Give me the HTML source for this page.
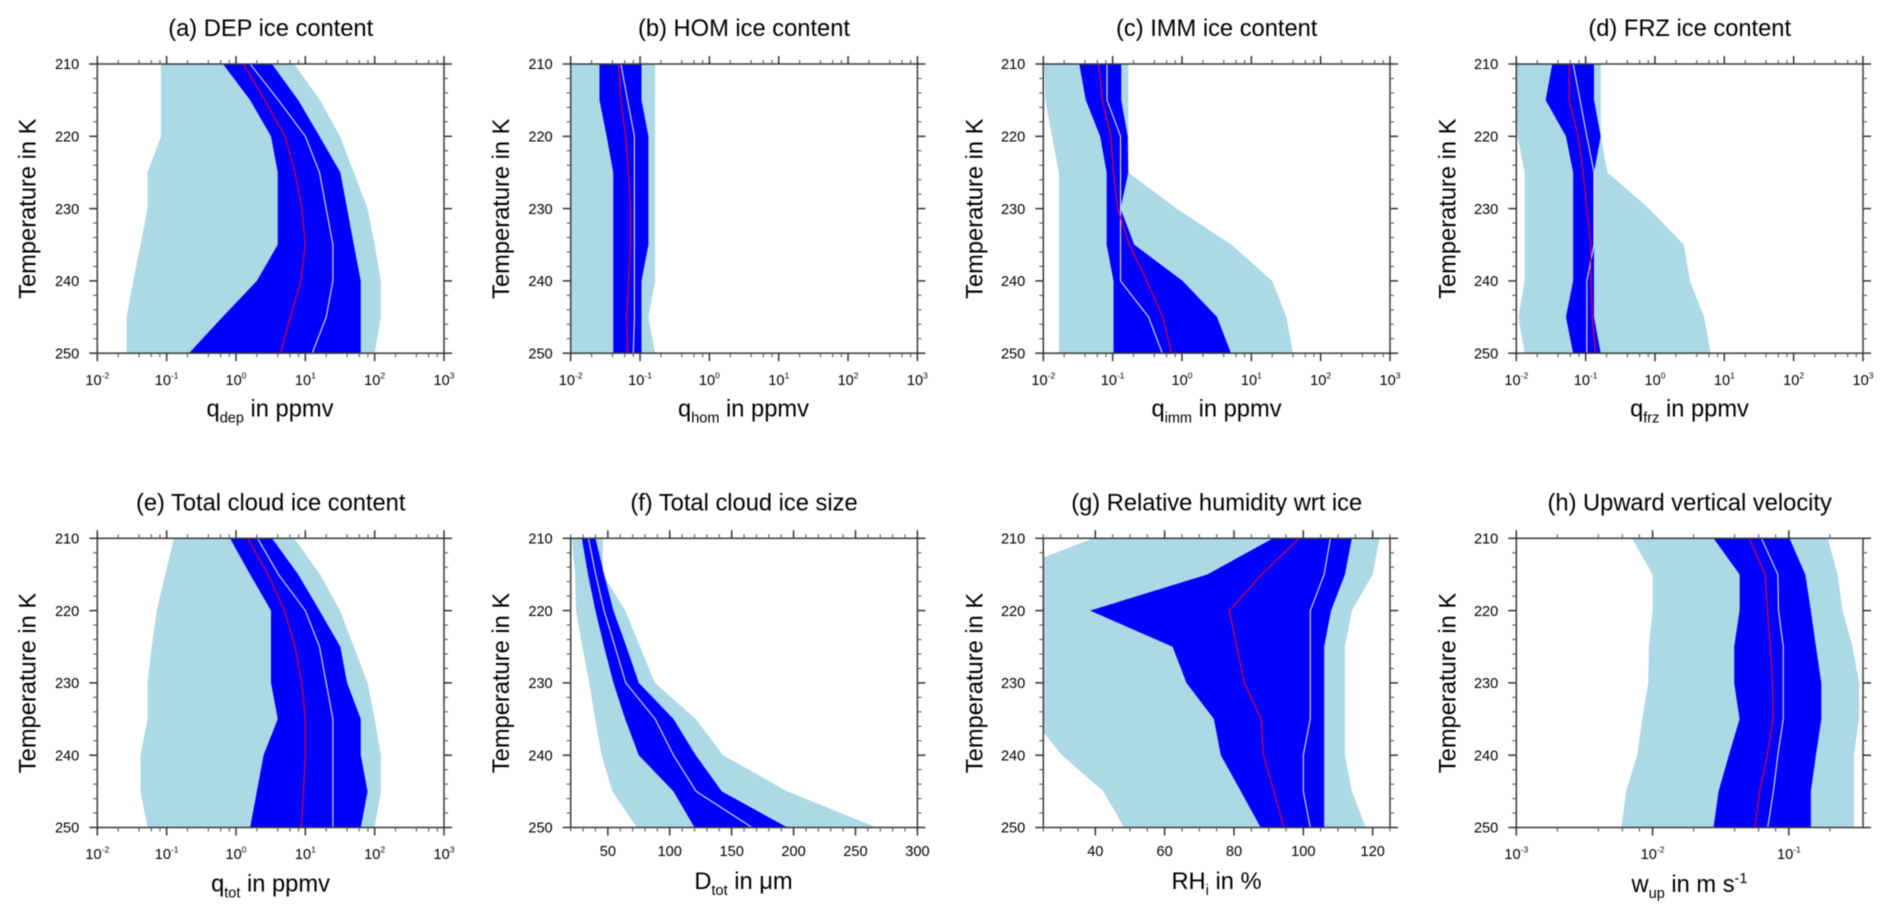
<!DOCTYPE html>
<html lang="en">
<head>
<meta charset="utf-8">
<title>Cloud ice profiles</title>
<style>
html,body{margin:0;padding:0;background:#fff;}
svg{display:block;filter:blur(0.4px);}
text{font-family:"Liberation Sans",Arial,sans-serif;fill:#000;white-space:pre;}
.title,.axt{font-size:23.7px;text-anchor:middle;}
.sub{font-size:14.5px;}
</style>
</head>
<body>
<svg id="chart" xmlns="http://www.w3.org/2000/svg" width="1892" height="920" viewBox="0 0 1892 920">
  <rect x="0" y="0" width="1892" height="920" fill="#ffffff"/>
  <g id="plots"></g>

  <text class="title" x="270.7" y="36">(a) DEP ice content</text>
  <text class="title" x="744" y="36">(b) HOM ice content</text>
  <text class="title" x="1216.7" y="36">(c) IMM ice content</text>
  <text class="title" x="1689.7" y="36">(d) FRZ ice content</text>
  <text class="title" x="270.7" y="510.5">(e) Total cloud ice content</text>
  <text class="title" x="744" y="510.5">(f) Total cloud ice size</text>
  <text class="title" x="1216.7" y="510.5">(g) Relative humidity wrt ice</text>
  <text class="title" x="1689.7" y="510.5">(h) Upward vertical velocity</text>

  <text class="axt" transform="translate(35.7 208.7) rotate(-90)">Temperature in K</text>
  <text class="axt" transform="translate(509 208.7) rotate(-90)">Temperature in K</text>
  <text class="axt" transform="translate(982.3 208.7) rotate(-90)">Temperature in K</text>
  <text class="axt" transform="translate(1455.3 208.7) rotate(-90)">Temperature in K</text>
  <text class="axt" transform="translate(35.7 683) rotate(-90)">Temperature in K</text>
  <text class="axt" transform="translate(509 683) rotate(-90)">Temperature in K</text>
  <text class="axt" transform="translate(982.3 683) rotate(-90)">Temperature in K</text>
  <text class="axt" transform="translate(1455.3 683) rotate(-90)">Temperature in K</text>

  <text class="axt" x="270" y="416.7">q<tspan class="sub" dy="6">dep</tspan><tspan dy="-6"> in ppmv</tspan></text>
  <text class="axt" x="743.5" y="416.7">q<tspan class="sub" dy="6">hom</tspan><tspan dy="-6"> in ppmv</tspan></text>
  <text class="axt" x="1216.5" y="416.7">q<tspan class="sub" dy="6">imm</tspan><tspan dy="-6"> in ppmv</tspan></text>
  <text class="axt" x="1689.5" y="416.7">q<tspan class="sub" dy="6">frz</tspan><tspan dy="-6"> in ppmv</tspan></text>
  <text class="axt" x="270.5" y="891.7">q<tspan class="sub" dy="6">tot</tspan><tspan dy="-6"> in ppmv</tspan></text>
  <text class="axt" x="743.5" y="889">D<tspan class="sub" dy="6">tot</tspan><tspan dy="-6"> in μm</tspan></text>
  <text class="axt" x="1216.5" y="889">RH<tspan class="sub" dy="6">i</tspan><tspan dy="-6"> in %</tspan></text>
  <text class="axt" x="1689.5" y="892">w<tspan class="sub" dy="6">up</tspan><tspan dy="-6"> in m s</tspan><tspan class="sub" dy="-9">-1</tspan></text>
</svg>
<script>
const temperatures = [210, 215, 220, 225, 230, 235, 240, 245, 250];
const yTickLabels = [210, 220, 230, 240, 250];
const yMinorTicks = [212, 214, 216, 218, 222, 224, 226, 228, 232, 234, 236, 238, 242, 244, 246, 248];

const aLightLow = [0.083, 0.083, 0.083, 0.053, 0.053, 0.042, 0.033, 0.0265, 0.0265];
const aLightHigh = [6.9, 16.3, 31.6, 50, 79, 100, 123, 123, 100];
const aBlueLow = [0.65, 1.6, 3.2, 4, 4, 4, 2, 0.64, 0.21];
const aBlueHigh = [3.3, 7.9, 16, 32, 40, 50, 63, 63, 63];
const aRed = [1.28, 2.6, 5.1, 7.1, 8.9, 10, 8.6, 6.1, 4.4];
const aWhite = [1.6, 4.1, 10, 16, 20, 25, 25, 20, 12.6];

const bLightLow = [0.01, 0.01, 0.01, 0.01, 0.01, 0.01, 0.01, 0.01, 0.01];
const bLightHigh = [0.165, 0.165, 0.165, 0.165, 0.165, 0.165, 0.165, 0.132, 0.165];
const bBlueLow = [0.026, 0.026, 0.033, 0.041, 0.041, 0.041, 0.041, 0.041, 0.041];
const bBlueHigh = [0.105, 0.105, 0.132, 0.132, 0.132, 0.132, 0.105, 0.105, 0.105];
const bRed = [0.049, 0.053, 0.062, 0.068, 0.073, 0.073, 0.068, 0.064, 0.066];
const bWhite = [0.053, 0.066, 0.083, 0.083, 0.083, 0.083, 0.083, 0.083, 0.08];

const cLightLow = [0.0104, 0.0107, 0.0133, 0.0168, 0.0168, 0.0168, 0.0168, 0.0168, 0.0168];
const cLightHigh = [0.168, 0.168, 0.168, 0.168, 0.84, 5.2, 20, 32, 40];
const cBlueLow = [0.033, 0.041, 0.066, 0.082, 0.082, 0.082, 0.103, 0.103, 0.103];
const cBlueHigh = [0.133, 0.133, 0.165, 0.168, 0.13, 0.205, 1.02, 3.2, 5.1];
const cRed = [0.063, 0.071, 0.094, 0.103, 0.118, 0.174, 0.31, 0.53, 0.71];
const cWhite = [0.083, 0.083, 0.13, 0.13, 0.13, 0.13, 0.13, 0.33, 0.52];

const dLightLow = [0.01, 0.01, 0.0104, 0.0132, 0.0132, 0.0132, 0.0132, 0.0107, 0.0132];
const dLightHigh = [0.165, 0.165, 0.165, 0.207, 0.82, 2.6, 3.2, 5.1, 6.4];
const dBlueLow = [0.033, 0.0265, 0.052, 0.066, 0.066, 0.066, 0.066, 0.052, 0.066];
const dBlueHigh = [0.132, 0.132, 0.165, 0.132, 0.132, 0.132, 0.132, 0.132, 0.165];
const dRed = [0.058, 0.058, 0.078, 0.092, 0.104, 0.119, 0.119, 0.125, 0.138];
const dWhite = [0.066, 0.083, 0.104, 0.132, 0.132, 0.132, 0.104, 0.104, 0.104];

const eLightLow = [0.128, 0.095, 0.072, 0.061, 0.053, 0.053, 0.042, 0.042, 0.053];
const eLightHigh = [6.9, 16.3, 31.6, 50, 79, 100, 123, 123, 100];
const eBlueLow = [0.82, 1.6, 3.2, 3.2, 3.2, 4, 2.5, 2, 1.6];
const eBlueHigh = [3.3, 7.9, 16, 32, 40, 63, 63, 79, 63];
const eRed = [1.47, 2.9, 5, 7.1, 8.9, 10, 10, 9.4, 8.75];
const eWhite = [2.05, 4.1, 10, 16, 20, 25, 25, 25, 25];

const fLightLow = [21, 23.5, 24.3, 29.4, 35, 39.7, 45, 53.7, 73.4];
const fLightHigh = [46, 46, 64, 76, 88, 121, 143, 195, 267];
const fBlueLow = [29, 34, 40, 47, 54.5, 64, 75, 103, 120];
const fBlueHigh = [40, 47, 54.5, 65, 75, 103, 121, 142, 195];
const fWhite = [34.3, 40.2, 47, 55.8, 64.5, 88.2, 103, 121.3, 166.4];

const gLightLow = [39.4, 12.5, 12, 12, 15, 22, 30.4, 42.3, 48.3];
const gLightHigh = [122, 120, 114, 112, 112, 112, 112, 114, 118];
const gBlueLow = [91.3, 72.3, 38.5, 62.3, 66.3, 74.2, 76.2, 82, 87.7];
const gBlueHigh = [114, 112, 108, 106, 106, 106, 106, 106, 106];
const gRed = [98.75, 88, 78.65, 80.8, 83, 87.8, 88.5, 91.5, 94.4];
const gWhite = [107.8, 106, 102, 102, 102, 102, 100, 100, 102];

const hLightLow = [0.00705, 0.01, 0.01, 0.0094, 0.0093, 0.0084, 0.0077, 0.0064, 0.0059];
const hLightHigh = [0.193, 0.228, 0.248, 0.293, 0.328, 0.328, 0.3, 0.3, 0.3];
const hBlueLow = [0.028, 0.0435, 0.0435, 0.0397, 0.0397, 0.0435, 0.0363, 0.0305, 0.028];
const hBlueHigh = [0.101, 0.132, 0.145, 0.158, 0.173, 0.173, 0.158, 0.145, 0.145];
const hRed = [0.0512, 0.067, 0.0698, 0.0729, 0.0759, 0.0767, 0.0694, 0.061, 0.0566];
const hWhite = [0.063, 0.083, 0.084, 0.091, 0.091, 0.091, 0.083, 0.077, 0.07];

const q5Exponents = [-2, -1, 0, 1, 2, 3];
const wExponents = [-3, -2, -1];
const logMinorMultipliers = [2, 4, 6, 8];
const fTickLabels = [50, 100, 150, 200, 250, 300];
const fMinorTicks = [20, 30, 40, 60, 70, 80, 90, 110, 120, 130, 140, 160, 170, 180, 190, 210, 220, 230, 240, 260, 270, 280, 290];
const gTickLabels = [40, 60, 80, 100, 120];
const gMinorTicks = [25, 30, 35, 45, 50, 55, 65, 70, 75, 85, 90, 95, 105, 110, 115, 125];

const NS = 'http://www.w3.org/2000/svg';
const columnLefts = [97.3, 570.7, 1043.3, 1516.3];
const rowTops = [64, 538.3];
const plotW = 346.7;
const plotH = 289.2;

const panels = [
  {id: 'a', col: 0, row: 0, log: true, min: 0.01, max: 1000, ex: q5Exponents, ll: aLightLow, lh: aLightHigh, bl: aBlueLow, bh: aBlueHigh, red: aRed, white: aWhite},
  {id: 'b', col: 1, row: 0, log: true, min: 0.01, max: 1000, ex: q5Exponents, ll: bLightLow, lh: bLightHigh, bl: bBlueLow, bh: bBlueHigh, red: bRed, white: bWhite},
  {id: 'c', col: 2, row: 0, log: true, min: 0.01, max: 1000, ex: q5Exponents, ll: cLightLow, lh: cLightHigh, bl: cBlueLow, bh: cBlueHigh, red: cRed, white: cWhite},
  {id: 'd', col: 3, row: 0, log: true, min: 0.01, max: 1000, ex: q5Exponents, ll: dLightLow, lh: dLightHigh, bl: dBlueLow, bh: dBlueHigh, red: dRed, white: dWhite},
  {id: 'e', col: 0, row: 1, log: true, min: 0.01, max: 1000, ex: q5Exponents, ll: eLightLow, lh: eLightHigh, bl: eBlueLow, bh: eBlueHigh, red: eRed, white: eWhite},
  {id: 'f', col: 1, row: 1, log: false, min: 20, max: 300, major: fTickLabels, minor: fMinorTicks, ll: fLightLow, lh: fLightHigh, bl: fBlueLow, bh: fBlueHigh, red: null, white: fWhite},
  {id: 'g', col: 2, row: 1, log: false, min: 25, max: 125, major: gTickLabels, minor: gMinorTicks, ll: gLightLow, lh: gLightHigh, bl: gBlueLow, bh: gBlueHigh, red: gRed, white: gWhite},
  {id: 'h', col: 3, row: 1, log: true, min: 0.001, max: 0.35, ex: wExponents, ll: hLightLow, lh: hLightHigh, bl: hBlueLow, bh: hBlueHigh, red: hRed, white: hWhite}
];

const plotsRoot = document.getElementById('plots');

function make(tag, parent) {
  const el = document.createElementNS(NS, tag);
  parent.appendChild(el);
  return el;
}

function drawTick(parent, x1, y1, x2, y2, isMajor) {
  const t = make('line', parent);
  
  
  t.setAttribute('x1', x1);
  t.setAttribute('y1', y1);
  t.setAttribute('x2', x2);
  t.setAttribute('y2', y2);
  t.setAttribute('stroke', isMajor ? '#333333' : '#555555');
  t.setAttribute('stroke-width', isMajor ? 1.5 : 1.1);
}

panels.forEach(function (p) {
  const L = columnLefts[p.col];
  const T = rowTops[p.row];
  const R = L + plotW;
  const B = T + plotH;

  function xScale(v) {
    if (p.log) {
      const a = Math.log10(p.min);
      const b = Math.log10(p.max);
      return L + (Math.log10(v) - a) / (b - a) * plotW;
    }
    return L + (v - p.min) / (p.max - p.min) * plotW;
  }
  function yScale(t) {
    return T + (t - 210) / 40 * plotH;
  }

  const g = make('g', plotsRoot);
  
  

  const clip = make('clipPath', g);
  clip.setAttribute('id', 'clip-' + p.id);
  const clipRect = make('rect', clip);
  clipRect.setAttribute('x', L);
  clipRect.setAttribute('y', T);
  clipRect.setAttribute('width', plotW);
  clipRect.setAttribute('height', plotH);

  const marks = make('g', g);
  
  
  marks.setAttribute('clip-path', 'url(#clip-' + p.id + ')');

  function band(low, high, color, name) {
    const pts = [];
    temperatures.forEach(function (t, i) { pts.push(xScale(low[i]).toFixed(2) + ',' + yScale(t).toFixed(2)); });
    for (let i = temperatures.length - 1; i >= 0; i--) { pts.push(xScale(high[i]).toFixed(2) + ',' + yScale(temperatures[i]).toFixed(2)); }
    const poly = make('polygon', marks);
    
    
    poly.setAttribute('points', pts.join(' '));
    poly.setAttribute('fill', color);
  }
  function curve(vals, color, name) {
    const pts = temperatures.map(function (t, i) { return xScale(vals[i]).toFixed(2) + ',' + yScale(t).toFixed(2); });
    const line = make('polyline', marks);
    
    
    line.setAttribute('points', pts.join(' '));
    line.setAttribute('fill', 'none');
    line.setAttribute('stroke', color);
    line.setAttribute('stroke-width', 1.1);
  }

  band(p.ll, p.lh, '#add8e6', 'outer-range-band');
  band(p.bl, p.bh, '#0000ff', 'inner-range-band');
  curve(p.white, '#e4e4ff', 'median-line');
  if (p.red) {
    curve(p.red, '#f00020', 'mean-line');
  }

  const axes = make('g', g);
  
  

  const frame = make('rect', axes);
  
  
  frame.setAttribute('x', L);
  frame.setAttribute('y', T);
  frame.setAttribute('width', plotW);
  frame.setAttribute('height', plotH);
  frame.setAttribute('fill', 'none');
  frame.setAttribute('stroke', '#3a3a3a');
  frame.setAttribute('stroke-width', 1.5);

  yMinorTicks.forEach(function (t) {
    const y = yScale(t);
    drawTick(axes, L - 4, y, L, y, false);
    drawTick(axes, R, y, R + 4, y, false);
  });
  yTickLabels.forEach(function (t) {
    const y = yScale(t);
    drawTick(axes, L - 8, y, L, y, true);
    drawTick(axes, R, y, R + 8, y, true);
    const label = make('text', axes);
    
    
    label.setAttribute('x', L - 18);
    label.setAttribute('y', y + 5.2);
    label.setAttribute('text-anchor', 'end');
    label.setAttribute('font-size', '14.6');
    label.textContent = String(t);
  });

  function xTicks(v, isMajor) {
    const x = xScale(v);
    const len = isMajor ? 8 : 4;
    drawTick(axes, x, B, x, B + len, isMajor);
    drawTick(axes, x, T - len, x, T, isMajor);
  }

  if (p.log) {
    p.ex.forEach(function (e) {
      const v = Math.pow(10, e);
      xTicks(v, true);
      logMinorMultipliers.forEach(function (m) {
        if (v * m <= p.max && e < 3) {
          xTicks(v * m, false);
        }
      });
      const label = make('text', axes);
      
      
      label.setAttribute('x', xScale(v));
      label.setAttribute('y', B + 31.7);
      label.setAttribute('text-anchor', 'middle');
      label.setAttribute('font-size', '14.6');
      const base = make('tspan', label);
      base.textContent = '10';
      const sup = make('tspan', label);
      sup.setAttribute('font-size', '8.5');
      sup.setAttribute('dy', '-6.5');
      sup.textContent = String(e);
    });
  } else {
    p.minor.forEach(function (v) { xTicks(v, false); });
    p.major.forEach(function (v) {
      xTicks(v, true);
      const label = make('text', axes);
      
      
      label.setAttribute('x', xScale(v));
      label.setAttribute('y', B + 28.7);
      label.setAttribute('text-anchor', 'middle');
      label.setAttribute('font-size', '14.6');
      label.textContent = String(v);
    });
  }
});
</script>
</body>
</html>
